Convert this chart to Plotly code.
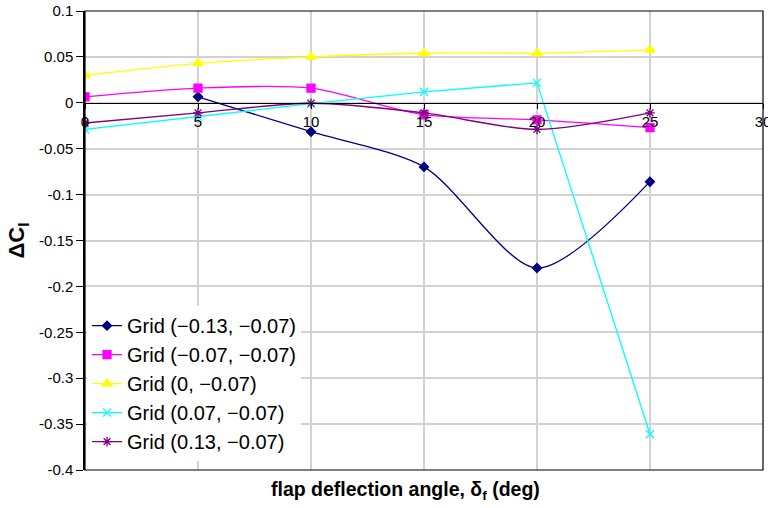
import plotly.graph_objects as go

# flap deflection angle (deg)
angles = [0, 5, 10, 15, 20, 25]

# Delta C_l per grid position; None where no value was recorded
grid_m013 = [None, 0.0065, -0.0315, -0.0698, -0.180, -0.0859]
grid_m007 = [0.0065, 0.016, 0.016, -0.013, -0.0185, -0.027]
grid_000 = [0.030, 0.043, 0.050, 0.054, 0.054, 0.0576]
grid_p007 = [-0.029, -0.015, -0.001, 0.012, 0.0217, -0.361]
grid_p013 = [-0.022, -0.011, -0.0005, -0.011, -0.029, -0.011]

series_names = [
    "Grid (\u22120.13, \u22120.07)",
    "Grid (\u22120.07, \u22120.07)",
    "Grid (0, \u22120.07)",
    "Grid (0.07, \u22120.07)",
    "Grid (0.13, \u22120.07)",
]

x_ticks = [0, 5, 10, 15, 20, 25, 30]
y_ticks = [0.1, 0.05, 0, -0.05, -0.1, -0.15, -0.2, -0.25, -0.3, -0.35, -0.4]
y_tick_text = ["0.1", "0.05", "0", "-0.05", "-0.1", "-0.15", "-0.2",
               "-0.25", "-0.3", "-0.35", "-0.4"]

styles = [
    dict(color="#000080", symbol="diamond", size=7, shape="spline"),
    dict(color="#FF00FF", symbol="square", size=8, shape="spline"),
    dict(color="#FFFF00", symbol="triangle-up", size=9, shape="spline"),
    dict(color="#00FFFF", symbol="x-thin-open", size=8, shape="linear"),
    dict(color="#800080", symbol="asterisk-open", size=8, shape="spline"),
]

fig = go.Figure()
for name, vals, st in zip(series_names,
                          [grid_m013, grid_m007, grid_000, grid_p007, grid_p013],
                          styles):
    fig.add_trace(go.Scatter(
        x=angles, y=vals, name=name, mode="lines+markers",
        line=dict(color=st["color"], width=1.3, shape=st["shape"], smoothing=0.8),
        marker=dict(symbol=st["symbol"], size=st["size"], color=st["color"],
                    line=dict(color=st["color"], width=1.3)),
        connectgaps=False,
    ))

y_min, y_max = -0.4, 0.1
zero_pos = (0 - y_min) / (y_max - y_min)

font_family = "Liberation Sans, Arial, sans-serif"

fig.update_layout(
    width=768, height=508,
    margin=dict(l=85, r=5, t=11, b=38),
    paper_bgcolor="white", plot_bgcolor="white",
    font=dict(family=font_family, color="black", size=15),
    showlegend=True,
    legend=dict(
        x=0.003, y=0.357, xanchor="left", yanchor="top",
        bgcolor="white", borderwidth=0,
        font=dict(size=20, family=font_family, color="black"),
        itemwidth=30,
    ),
    xaxis=dict(
        range=[0, 30], tickvals=x_ticks,
        anchor="free", position=zero_pos,
        showline=True, linecolor="black", linewidth=1,
        ticks="outside", ticklen=5, tickcolor="black",
        showgrid=True, gridcolor="#d2d2d2", gridwidth=1.5,
        zeroline=False, tickfont=dict(size=15),
        ticklabeloverflow="allow", automargin=False,
    ),
    yaxis=dict(
        range=[y_min, y_max], tickvals=y_ticks, ticktext=y_tick_text,
        showline=True, linecolor="black", linewidth=1.5,
        ticks="outside", ticklen=7, tickcolor="black",
        showgrid=True, gridcolor="#d2d2d2", gridwidth=1.5,
        zeroline=False, tickfont=dict(size=15), automargin=False,
        title=dict(text="<b>\u0394C<sub>l</sub></b>", font=dict(size=22), standoff=8),
    ),
    shapes=[dict(type="rect", xref="x domain", yref="y domain",
                 x0=0, x1=1, y0=0, y1=1, line=dict(color="black", width=1.2),
                 layer="above")],
    annotations=[dict(
        text="<b>flap deflection angle, \u03b4<sub>f</sub> (deg)</b>",
        xref="paper", yref="paper", x=0.473, y=0, yanchor="top", yshift=-6,
        showarrow=False, font=dict(size=19.5),
    )],
)

fig.write_html("out.html")
